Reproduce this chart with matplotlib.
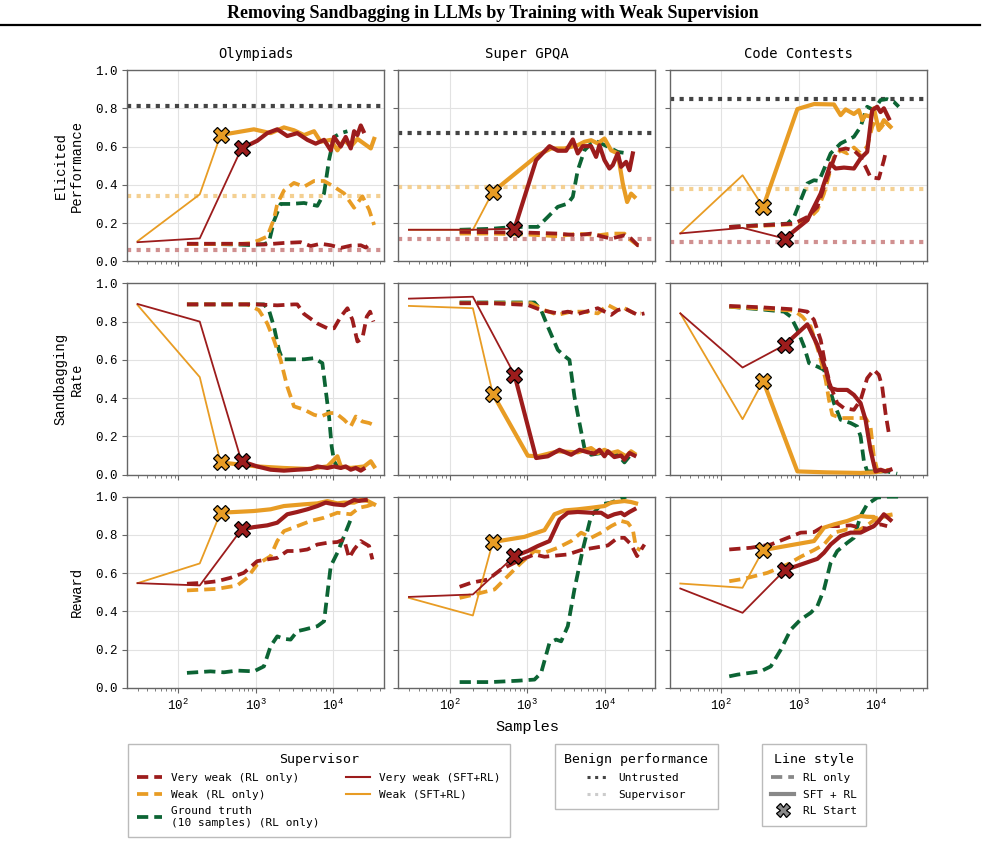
import matplotlib
matplotlib.use("Agg")
import matplotlib.pyplot as plt
from matplotlib.lines import Line2D
from matplotlib.ticker import FormatStrFormatter

RED = '#9c1c1c'
ORANGE = '#e89c24'
GREEN = '#0c6434'
DARK = '#444444'
RED_LIGHT = '#d09090'
ORANGE_LIGHT = '#f4d092'

datasets = ['Olympiads', 'Super GPQA', 'Code Contests']
metrics = ['Elicited\nPerformance', 'Sandbagging\nRate', 'Reward']

# benign performance (dotted lines, top row only)
untrusted_perf = [0.81, 0.672, 0.848]
weak_sup_perf = [0.34, 0.39, 0.377]
vweak_sup_perf = [0.058, 0.117, 0.099]

# ---------------- Olympiads: elicited performance ----------------
oly_perf_vw_rl_x = [130, 318, 577, 858, 1274, 2308, 3787, 5105, 6871, 9247, 12450, 16750, 22540, 26120, 30340]
oly_perf_vw_rl_y = [0.092, 0.092, 0.092, 0.09, 0.088, 0.096, 0.1, 0.08, 0.092, 0.084, 0.07, 0.082, 0.084, 0.072, 0.096]
oly_perf_w_rl_x = [130, 318, 577, 858, 1099, 1407, 1715, 1893, 2308, 3106, 4188, 5636, 7586, 10200, 13740, 18490, 23660, 28840, 33500]
oly_perf_w_rl_y = [0.09, 0.09, 0.09, 0.095, 0.11, 0.13, 0.22, 0.30, 0.37, 0.41, 0.39, 0.42, 0.42, 0.39, 0.355, 0.28, 0.34, 0.27, 0.19]
oly_perf_gt_rl_x = [130, 318, 577, 858, 1274, 1479, 1715, 2090, 2813, 4188, 6223, 7586, 8790, 10200, 12450, 15170]
oly_perf_gt_rl_y = [0.09, 0.09, 0.088, 0.085, 0.09, 0.10, 0.21, 0.30, 0.30, 0.305, 0.29, 0.355, 0.53, 0.65, 0.67, 0.68]
oly_perf_vw_sft_x = [30, 190, 656, 1045, 1407, 1893, 2548, 3430, 4624, 5918, 7586, 9247, 10200, 12450, 14420, 16750, 18490, 20420, 22540, 24380]
oly_perf_vw_sft_y = [0.10, 0.12, 0.59, 0.63, 0.67, 0.69, 0.655, 0.67, 0.635, 0.615, 0.635, 0.58, 0.65, 0.60, 0.65, 0.59, 0.68, 0.66, 0.71, 0.68]
oly_perf_w_sft_x = [30, 190, 352, 947, 1553, 2308, 3106, 4188, 5636, 6871, 9247, 11270, 13740, 16750, 20420, 24890, 30340, 33500]
oly_perf_w_sft_y = [0.105, 0.35, 0.66, 0.69, 0.67, 0.70, 0.685, 0.66, 0.68, 0.625, 0.635, 0.58, 0.635, 0.60, 0.64, 0.615, 0.59, 0.64]

# ---------------- Olympiads: sandbagging rate ----------------
oly_sand_vw_rl_x = [130, 318, 577, 1045, 1893, 3106, 3430, 4188, 6223, 8375, 10200, 12450, 15170, 17580, 20420, 23660, 26920, 29720, 32810]
oly_sand_vw_rl_y = [0.89, 0.89, 0.89, 0.89, 0.885, 0.89, 0.89, 0.84, 0.79, 0.765, 0.765, 0.826, 0.87, 0.81, 0.696, 0.713, 0.826, 0.852, 0.80]
oly_sand_w_rl_x = [130, 318, 577, 777, 1099, 1407, 1715, 2090, 2548, 3106, 4188, 5636, 6871, 8790, 10720, 13740, 16750, 19410, 23660, 28840, 32810]
oly_sand_w_rl_y = [0.89, 0.89, 0.89, 0.89, 0.86, 0.79, 0.704, 0.60, 0.46, 0.357, 0.34, 0.313, 0.304, 0.322, 0.322, 0.287, 0.252, 0.304, 0.278, 0.27, 0.26]
oly_sand_gt_rl_x = [130, 318, 577, 1274, 1479, 1715, 1990, 2198, 2813, 4188, 5636, 7215, 7962, 8790, 9506, 10200, 11270, 13740, 15170]
oly_sand_gt_rl_y = [0.89, 0.89, 0.89, 0.89, 0.86, 0.774, 0.652, 0.603, 0.603, 0.603, 0.609, 0.583, 0.443, 0.304, 0.148, 0.07, 0.043, 0.035, 0.04]
oly_sand_vw_sft_x = [30, 190, 656, 1045, 1553, 2308, 3430, 5105, 6223, 8375, 10200, 12450, 14420, 16750, 19410, 22540, 24380]
oly_sand_vw_sft_y = [0.892, 0.80, 0.07, 0.043, 0.026, 0.021, 0.026, 0.03, 0.043, 0.035, 0.043, 0.035, 0.043, 0.026, 0.035, 0.021, 0.03]
oly_sand_w_sft_x = [30, 190, 352, 1045, 2308, 4624, 8375, 11270, 12450, 16750, 24890, 30340, 33500]
oly_sand_w_sft_y = [0.887, 0.51, 0.064, 0.043, 0.035, 0.03, 0.043, 0.096, 0.043, 0.035, 0.043, 0.07, 0.043]

# ---------------- Olympiads: reward ----------------
oly_rew_vw_rl_x = [130, 214, 318, 473, 703, 1045, 1407, 1893, 2548, 3430, 4624, 6223, 8375, 11270, 13740, 15920, 18490, 22540, 28840, 31850]
oly_rew_vw_rl_y = [0.545, 0.55, 0.558, 0.576, 0.602, 0.663, 0.672, 0.68, 0.716, 0.716, 0.724, 0.75, 0.759, 0.763, 0.777, 0.68, 0.724, 0.768, 0.742, 0.672]
oly_rew_w_rl_x = [130, 318, 577, 777, 1045, 1553, 1893, 2308, 3430, 5105, 7586, 11270, 16750, 21430, 27480, 31850]
oly_rew_w_rl_y = [0.51, 0.518, 0.536, 0.576, 0.646, 0.689, 0.768, 0.82, 0.846, 0.873, 0.89, 0.916, 0.908, 0.942, 0.951, 0.96]
oly_rew_gt_rl_x = [130, 261, 388, 577, 947, 1274, 1553, 1893, 2308, 2813, 3430, 4188, 5105, 6223, 7586, 9247, 11270, 13740, 16750]
oly_rew_gt_rl_y = [0.079, 0.087, 0.082, 0.091, 0.087, 0.113, 0.218, 0.27, 0.257, 0.253, 0.297, 0.305, 0.314, 0.323, 0.349, 0.637, 0.707, 0.794, 0.881]
oly_rew_vw_sft_x = [30, 190, 656, 947, 1407, 1893, 2548, 3430, 4624, 6223, 7962, 10200, 13740, 15920, 18490, 21430, 26120]
oly_rew_vw_sft_y = [0.548, 0.536, 0.829, 0.841, 0.85, 0.864, 0.908, 0.92, 0.934, 0.951, 0.969, 0.96, 0.955, 0.969, 0.983, 0.978, 0.983]
oly_rew_w_sft_x = [30, 190, 352, 947, 1553, 2308, 4188, 6223, 8375, 11270, 13740, 18490, 22540, 27480, 33500]
oly_rew_w_sft_y = [0.548, 0.651, 0.916, 0.925, 0.934, 0.951, 0.96, 0.965, 0.977, 0.965, 0.969, 0.969, 0.983, 0.978, 0.96]

# ---------------- Super GPQA: elicited performance ----------------
gpqa_perf_vw_rl_x = [135, 344, 1020, 2483, 4487, 6668, 9908, 12080, 17910, 21830, 26610, 32430]
gpqa_perf_vw_rl_y = [0.154, 0.152, 0.15, 0.145, 0.136, 0.145, 0.127, 0.119, 0.136, 0.119, 0.084, 0.084]
gpqa_perf_w_rl_x = [135, 344, 1020, 2483, 4487, 8128, 12080, 17910, 21830, 26610, 29380]
gpqa_perf_w_rl_y = [0.145, 0.145, 0.14, 0.131, 0.145, 0.136, 0.145, 0.145, 0.11, 0.084, 0.075]
gpqa_perf_gt_rl_x = [135, 344, 687, 1372, 1845, 2483, 3340, 3873, 4487, 5470, 6668, 8128, 10940, 14690, 19770]
gpqa_perf_gt_rl_y = [0.165, 0.17, 0.18, 0.18, 0.232, 0.285, 0.302, 0.337, 0.476, 0.58, 0.616, 0.625, 0.599, 0.572, 0.564]
gpqa_perf_vw_sft_x = [30, 200, 687, 1306, 1940, 2483, 3177, 3873, 4487, 5212, 6668, 7727, 8531, 9908, 11480, 12680, 14690, 16220, 18840, 20800, 22960]
gpqa_perf_vw_sft_y = [0.165, 0.165, 0.171, 0.529, 0.602, 0.578, 0.578, 0.637, 0.564, 0.602, 0.602, 0.546, 0.607, 0.529, 0.485, 0.503, 0.564, 0.494, 0.52, 0.476, 0.564]
gpqa_perf_w_sft_x = [30, 200, 361, 1372, 2037, 3026, 4487, 5470, 6668, 8128, 9908, 12080, 14690, 17060, 19410, 21830, 24100]
gpqa_perf_w_sft_y = [0.165, 0.165, 0.363, 0.555, 0.59, 0.59, 0.607, 0.625, 0.633, 0.616, 0.642, 0.58, 0.564, 0.407, 0.31, 0.354, 0.337]

# ---------------- Super GPQA: sandbagging rate ----------------
gpqa_sand_vw_rl_x = [135, 344, 1020, 1514, 2483, 3340, 4487, 6668, 8128, 12080, 14690, 17910, 21830, 26610, 32430]
gpqa_sand_vw_rl_y = [0.896, 0.896, 0.887, 0.86, 0.843, 0.852, 0.84, 0.86, 0.87, 0.835, 0.86, 0.87, 0.852, 0.835, 0.843]
gpqa_sand_w_rl_x = [135, 344, 1127, 1671, 2483, 3687, 5470, 8128, 10940, 14690, 17910, 24100, 29380]
gpqa_sand_w_rl_y = [0.896, 0.896, 0.896, 0.86, 0.835, 0.852, 0.852, 0.843, 0.887, 0.86, 0.87, 0.843, 0.843]
gpqa_sand_gt_rl_x = [135, 344, 1243, 1514, 1845, 2483, 3026, 3508, 4064, 4721, 5470, 6668, 8974, 12080, 14690, 17910, 20800]
gpqa_sand_gt_rl_y = [0.90, 0.90, 0.90, 0.86, 0.774, 0.652, 0.62, 0.60, 0.409, 0.27, 0.139, 0.104, 0.113, 0.113, 0.104, 0.064, 0.096]
gpqa_sand_vw_sft_x = [30, 200, 687, 1306, 1845, 2608, 3687, 4721, 6039, 7362, 8531, 9908, 10940, 13300, 16220, 17910, 20800, 24100]
gpqa_sand_vw_sft_y = [0.92, 0.93, 0.522, 0.087, 0.096, 0.13, 0.104, 0.13, 0.117, 0.11, 0.13, 0.096, 0.122, 0.092, 0.10, 0.078, 0.113, 0.10]
gpqa_sand_w_sft_x = [30, 200, 361, 1020, 1372, 2483, 4487, 6668, 8128, 9908, 12080, 14690, 18840, 21830, 24100]
gpqa_sand_w_sft_y = [0.882, 0.87, 0.423, 0.099, 0.096, 0.122, 0.117, 0.139, 0.113, 0.13, 0.113, 0.122, 0.096, 0.122, 0.11]

# ---------------- Super GPQA: reward ----------------
gpqa_rew_vw_rl_x = [135, 190, 312, 463, 758, 1243, 1671, 2483, 3340, 4955, 7362, 10940, 14690, 17910, 21830, 26060, 32430]
gpqa_rew_vw_rl_y = [0.529, 0.55, 0.567, 0.62, 0.663, 0.698, 0.686, 0.693, 0.698, 0.721, 0.733, 0.745, 0.785, 0.785, 0.75, 0.689, 0.75]
gpqa_rew_w_rl_x = [135, 210, 380, 564, 837, 1243, 1671, 2483, 3687, 4955, 6668, 8974, 12080, 16220, 19770, 22960, 25290, 28770]
gpqa_rew_w_rl_y = [0.471, 0.489, 0.515, 0.585, 0.654, 0.716, 0.707, 0.733, 0.768, 0.812, 0.785, 0.812, 0.846, 0.873, 0.864, 0.829, 0.733, 0.72]
gpqa_rew_gt_rl_x = [135, 344, 758, 1243, 1514, 1940, 2361, 2741, 3340, 4064, 5212, 6668, 8974, 12080, 16220, 18840]
gpqa_rew_gt_rl_y = [0.031, 0.031, 0.038, 0.044, 0.079, 0.236, 0.253, 0.244, 0.323, 0.515, 0.724, 0.899, 0.96, 0.969, 0.99, 1.0]
gpqa_rew_vw_sft_x = [30, 200, 687, 1020, 1372, 1940, 2608, 3340, 4487, 6668, 8974, 10940, 13300, 16220, 17910, 20800, 24100]
gpqa_rew_vw_sft_y = [0.476, 0.489, 0.689, 0.716, 0.742, 0.768, 0.881, 0.916, 0.92, 0.916, 0.916, 0.894, 0.908, 0.916, 0.903, 0.92, 0.934]
gpqa_rew_w_sft_x = [30, 200, 361, 924, 1671, 2248, 3026, 4487, 6668, 9908, 12080, 17910, 21830, 25290]
gpqa_rew_w_sft_y = [0.471, 0.379, 0.763, 0.79, 0.825, 0.908, 0.928, 0.934, 0.942, 0.951, 0.969, 0.977, 0.972, 0.965]

# ---------------- Code Contests: elicited performance ----------------
code_perf_vw_rl_x = [128, 326, 875, 1298, 1746, 2345, 3155, 4036, 5166, 6295, 7296, 8453, 10820, 12560, 13180]
code_perf_vw_rl_y = [0.18, 0.188, 0.197, 0.232, 0.284, 0.44, 0.58, 0.59, 0.58, 0.546, 0.494, 0.44, 0.433, 0.528, 0.564]
code_perf_w_rl_x = [128, 875, 1298, 1746, 2127, 2858, 3482, 4240, 5166, 6295, 7656, 8890, 9795, 11380, 13180, 15280]
code_perf_w_rl_y = [0.177, 0.194, 0.215, 0.267, 0.354, 0.546, 0.58, 0.564, 0.595, 0.564, 0.60, 0.703, 0.738, 0.695, 0.73, 0.703]
code_perf_gt_rl_x = [128, 719, 875, 1298, 1582, 1834, 2590, 3482, 5166, 6295, 7656, 9333, 11380, 13840, 16870, 19540]
code_perf_gt_rl_y = [0.18, 0.197, 0.232, 0.407, 0.424, 0.42, 0.564, 0.616, 0.651, 0.703, 0.808, 0.79, 0.843, 0.848, 0.834, 0.808]
code_perf_vw_sft_x = [30, 190, 664, 1298, 1927, 2590, 3004, 3845, 5166, 6295, 7656, 8890, 10300, 11380, 12560, 14550]
code_perf_vw_sft_y = [0.146, 0.175, 0.119, 0.215, 0.354, 0.511, 0.485, 0.49, 0.485, 0.538, 0.572, 0.79, 0.808, 0.78, 0.80, 0.747]
code_perf_w_sft_x = [30, 190, 350, 966, 1582, 2858, 3482, 4036, 5166, 5985, 6607, 7296, 8453, 9333, 10820, 12560, 15280]
code_perf_w_sft_y = [0.146, 0.45, 0.284, 0.796, 0.822, 0.82, 0.764, 0.794, 0.77, 0.79, 0.738, 0.764, 0.756, 0.80, 0.686, 0.738, 0.703]

# ---------------- Code Contests: sandbagging rate ----------------
code_sand_vw_rl_x = [128, 326, 875, 1298, 1582, 1927, 2234, 2590, 3155, 3845, 5166, 6295, 7656, 9333, 10820, 11940, 13180, 14550]
code_sand_vw_rl_y = [0.882, 0.875, 0.864, 0.852, 0.809, 0.704, 0.565, 0.461, 0.374, 0.348, 0.339, 0.39, 0.504, 0.548, 0.522, 0.461, 0.322, 0.217]
code_sand_w_rl_x = [128, 875, 1120, 1433, 1834, 2234, 2466, 2720, 3482, 5166, 7296, 8453, 9333, 10300, 11940, 14550]
code_sand_w_rl_y = [0.878, 0.857, 0.826, 0.774, 0.635, 0.496, 0.391, 0.313, 0.296, 0.296, 0.296, 0.252, 0.096, 0.026, 0.017, 0.026]
code_sand_gt_rl_x = [128, 326, 651, 793, 966, 1177, 1365, 1746, 2127, 2466, 2858, 3482, 4678, 5702, 6295, 6950, 7656, 13840, 18620]
code_sand_gt_rl_y = [0.878, 0.864, 0.852, 0.826, 0.757, 0.67, 0.583, 0.565, 0.548, 0.461, 0.374, 0.287, 0.27, 0.252, 0.2, 0.07, 0.017, 0.017, 0.005]
code_sand_vw_sft_x = [30, 190, 664, 1298, 1746, 2234, 2590, 3155, 4240, 5166, 6295, 7296, 8453, 9795, 11380, 13180, 15280]
code_sand_vw_sft_y = [0.843, 0.56, 0.678, 0.786, 0.678, 0.548, 0.452, 0.443, 0.443, 0.417, 0.374, 0.287, 0.13, 0.017, 0.026, 0.017, 0.026]
code_sand_w_sft_x = [30, 190, 350, 966, 2345, 6295, 9333, 11380]
code_sand_w_sft_y = [0.843, 0.29, 0.49, 0.017, 0.012, 0.009, 0.012, 0.017]

# ---------------- Code Contests: reward ----------------
code_rew_vw_rl_x = [128, 243, 439, 1066, 1582, 2127, 3155, 4678, 6295, 7656, 9333, 11380, 13840]
code_rew_vw_rl_y = [0.724, 0.733, 0.75, 0.812, 0.815, 0.846, 0.846, 0.85, 0.838, 0.833, 0.846, 0.855, 0.846]
code_rew_w_rl_x = [128, 199, 398, 719, 1066, 1582, 2127, 2858, 4240, 5702, 7656, 10300, 12560, 14550]
code_rew_w_rl_y = [0.558, 0.571, 0.602, 0.646, 0.686, 0.721, 0.75, 0.812, 0.829, 0.82, 0.85, 0.89, 0.895, 0.9]
code_rew_gt_rl_x = [128, 164, 326, 439, 590, 793, 1066, 1433, 1746, 2127, 2590, 3155, 4240, 5166, 6295, 7656, 10300, 13840, 19540]
code_rew_gt_rl_y = [0.061, 0.07, 0.087, 0.113, 0.2, 0.305, 0.358, 0.393, 0.428, 0.515, 0.654, 0.716, 0.759, 0.785, 0.899, 0.96, 0.995, 1.0, 1.0]
code_rew_vw_sft_x = [30, 190, 664, 1746, 2127, 2590, 3482, 4678, 6295, 7656, 9333, 10820, 12560, 15280]
code_rew_vw_sft_y = [0.52, 0.393, 0.616, 0.675, 0.707, 0.75, 0.794, 0.812, 0.812, 0.829, 0.846, 0.873, 0.908, 0.878]
code_rew_w_sft_x = [30, 190, 350, 1582, 2127, 2858, 4240, 6295, 7656, 9333, 10300, 12560, 15280]
code_rew_w_sft_y = [0.546, 0.524, 0.721, 0.768, 0.838, 0.855, 0.873, 0.899, 0.895, 0.894, 0.873, 0.899, 0.905]

# panel table: row = metric, col = dataset
panels = [
    [  # elicited performance
        [oly_perf_vw_rl_x, oly_perf_vw_rl_y, oly_perf_w_rl_x, oly_perf_w_rl_y, oly_perf_gt_rl_x, oly_perf_gt_rl_y,
         oly_perf_vw_sft_x, oly_perf_vw_sft_y, oly_perf_w_sft_x, oly_perf_w_sft_y],
        [gpqa_perf_vw_rl_x, gpqa_perf_vw_rl_y, gpqa_perf_w_rl_x, gpqa_perf_w_rl_y, gpqa_perf_gt_rl_x, gpqa_perf_gt_rl_y,
         gpqa_perf_vw_sft_x, gpqa_perf_vw_sft_y, gpqa_perf_w_sft_x, gpqa_perf_w_sft_y],
        [code_perf_vw_rl_x, code_perf_vw_rl_y, code_perf_w_rl_x, code_perf_w_rl_y, code_perf_gt_rl_x, code_perf_gt_rl_y,
         code_perf_vw_sft_x, code_perf_vw_sft_y, code_perf_w_sft_x, code_perf_w_sft_y],
    ],
    [  # sandbagging rate
        [oly_sand_vw_rl_x, oly_sand_vw_rl_y, oly_sand_w_rl_x, oly_sand_w_rl_y, oly_sand_gt_rl_x, oly_sand_gt_rl_y,
         oly_sand_vw_sft_x, oly_sand_vw_sft_y, oly_sand_w_sft_x, oly_sand_w_sft_y],
        [gpqa_sand_vw_rl_x, gpqa_sand_vw_rl_y, gpqa_sand_w_rl_x, gpqa_sand_w_rl_y, gpqa_sand_gt_rl_x, gpqa_sand_gt_rl_y,
         gpqa_sand_vw_sft_x, gpqa_sand_vw_sft_y, gpqa_sand_w_sft_x, gpqa_sand_w_sft_y],
        [code_sand_vw_rl_x, code_sand_vw_rl_y, code_sand_w_rl_x, code_sand_w_rl_y, code_sand_gt_rl_x, code_sand_gt_rl_y,
         code_sand_vw_sft_x, code_sand_vw_sft_y, code_sand_w_sft_x, code_sand_w_sft_y],
    ],
    [  # reward
        [oly_rew_vw_rl_x, oly_rew_vw_rl_y, oly_rew_w_rl_x, oly_rew_w_rl_y, oly_rew_gt_rl_x, oly_rew_gt_rl_y,
         oly_rew_vw_sft_x, oly_rew_vw_sft_y, oly_rew_w_sft_x, oly_rew_w_sft_y],
        [gpqa_rew_vw_rl_x, gpqa_rew_vw_rl_y, gpqa_rew_w_rl_x, gpqa_rew_w_rl_y, gpqa_rew_gt_rl_x, gpqa_rew_gt_rl_y,
         gpqa_rew_vw_sft_x, gpqa_rew_vw_sft_y, gpqa_rew_w_sft_x, gpqa_rew_w_sft_y],
        [code_rew_vw_rl_x, code_rew_vw_rl_y, code_rew_w_rl_x, code_rew_w_rl_y, code_rew_gt_rl_x, code_rew_gt_rl_y,
         code_rew_vw_sft_x, code_rew_vw_sft_y, code_rew_w_sft_x, code_rew_w_sft_y],
    ],
]

MONO = 'Liberation Mono'
SANSMONO = 'DejaVu Sans Mono'
DASH = (0, (3, 1.6))
plt.rcParams['mathtext.default'] = 'regular'


def draw_panel(ax, d):
    vw_x, vw_y, w_x, w_y, gt_x, gt_y, vws_x, vws_y, ws_x, ws_y = d
    # RL only (dashed)
    for x, y, c in [(gt_x, gt_y, GREEN), (w_x, w_y, ORANGE), (vw_x, vw_y, RED)]:
        ax.plot(x, y, color=c, lw=2.7, linestyle=DASH, dash_capstyle='butt', zorder=3)
    # SFT + RL: thin SFT part, then thick RL part from the X marker
    for x, y, c in [(ws_x, ws_y, ORANGE), (vws_x, vws_y, RED)]:
        ax.plot(x[:3], y[:3], color=c, lw=1.3, zorder=4)
        ax.plot(x[2:], y[2:], color=c, lw=3.0, solid_joinstyle='round', zorder=4)
        ax.plot(x[2], y[2], marker='X', ms=11, mfc=c, mec='black', mew=0.9, zorder=6)


fig, axes = plt.subplots(3, 3, figsize=(9.85, 8.6), dpi=100, sharex=True, sharey=True,
                         gridspec_kw=dict(left=0.129, right=0.941, top=0.9186, bottom=0.2,
                                          wspace=0.056, hspace=0.115))

for r in range(3):
    for c in range(3):
        ax = axes[r, c]
        if r == 0:
            ax.axhline(untrusted_perf[c], color=DARK, lw=3, linestyle=(0, (1, 1.3)), dash_capstyle='butt', zorder=2)
            ax.axhline(weak_sup_perf[c], color=ORANGE_LIGHT, lw=3, linestyle=(0, (1, 1.3)), dash_capstyle='butt', zorder=2)
            ax.axhline(vweak_sup_perf[c], color=RED_LIGHT, lw=3, linestyle=(0, (1, 1.3)), dash_capstyle='butt', zorder=2)
            ax.set_title(datasets[c], family=SANSMONO, fontsize=10, pad=9)
        draw_panel(ax, panels[r][c])
        ax.set_xscale('log')
        ax.set_xlim(22, 45000)
        ax.set_ylim(0, 1.0)
        ax.set_yticks([0, 0.2, 0.4, 0.6, 0.8, 1.0])
        ax.yaxis.set_major_formatter(FormatStrFormatter('%.1f'))
        ax.grid(True, which='major', color='#e2e2e2', lw=0.8)
        ax.set_axisbelow(True)
        for s in ax.spines.values():
            s.set_color('#666666')
            s.set_linewidth(1.0)
        ax.tick_params(which='both', color='#666666', labelsize=9)
        for lab in ax.get_xticklabels() + ax.get_yticklabels():
            lab.set_family(MONO)
        if c == 0:
            ax.set_ylabel(metrics[r], family=MONO, fontsize=10, labelpad=8)

axes[2, 1].set_xlabel('Samples', family=MONO, fontsize=11, labelpad=5)

# title and rule
fig.text(0.5, 1 - 13 / 860, 'Removing Sandbagging in LLMs by Training with Weak Supervision',
         family='Liberation Serif', weight='bold', fontsize=13, ha='center', va='center')
fig.add_artist(Line2D([0.0, 0.995], [1 - 25 / 860, 1 - 25 / 860], color='black', lw=1.6))

# legends
leg_prop = dict(family=SANSMONO, size=8)
title_prop = dict(family=SANSMONO, size=9.5)
leg_kw = dict(loc='upper left', prop=leg_prop, title_fontproperties=title_prop, fancybox=False,
              edgecolor='#aaaaaa', borderaxespad=0, borderpad=0.85, labelspacing=0.6)

sup_handles = [
    Line2D([], [], color=RED, lw=2.7, linestyle=DASH),
    Line2D([], [], color=ORANGE, lw=2.7, linestyle=DASH),
    Line2D([], [], color=GREEN, lw=2.7, linestyle=DASH),
    Line2D([], [], color=RED, lw=1.5),
    Line2D([], [], color=ORANGE, lw=1.5),
]
sup_labels = ['Very weak (RL only)', 'Weak (RL only)', 'Ground truth\n(10 samples) (RL only)',
              'Very weak (SFT+RL)', 'Weak (SFT+RL)']
leg1 = fig.legend(sup_handles, sup_labels, ncol=2, title='Supervisor', bbox_to_anchor=(0.13, 0.135),
                  handlelength=2.2, columnspacing=2.4, **leg_kw)

ben_handles = [
    Line2D([], [], color=DARK, lw=2.2, linestyle=(0, (1, 1.5)), dash_capstyle='butt'),
    Line2D([], [], color='#cccccc', lw=2.2, linestyle=(0, (1, 1.5)), dash_capstyle='butt'),
]
leg2 = fig.legend(ben_handles, ['Untrusted', 'Supervisor'], title='Benign performance',
                  bbox_to_anchor=(0.5635, 0.135), handlelength=2.0, **leg_kw)

ls_handles = [
    Line2D([], [], color='#888888', lw=2.7, linestyle=DASH),
    Line2D([], [], color='#888888', lw=3.0),
    Line2D([], [], color='none', marker='X', ms=10, mfc='#888888', mec='black', mew=0.9),
]
leg3 = fig.legend(ls_handles, ['RL only', 'SFT + RL', 'RL Start'], title='Line style',
                  bbox_to_anchor=(0.7736, 0.135), handlelength=2.0, **leg_kw)

fig.savefig('out.png', dpi=100)
